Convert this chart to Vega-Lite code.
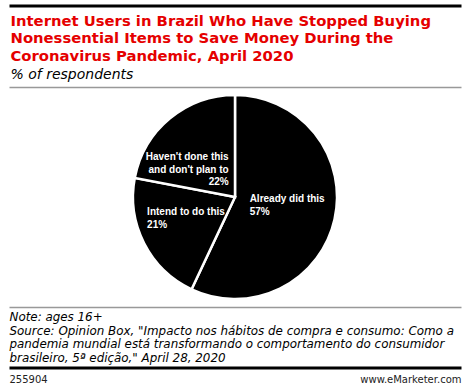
{
  "$schema": "https://vega.github.io/schema/vega-lite/v6.json",
  "width": 470,
  "height": 391,
  "autosize": {"type": "fit", "contains": "padding"},
  "padding": {"left": 6, "right": 6, "top": 5, "bottom": 6},
  "background": "white",
  "datasets": {
    "pie": [
      {"idx": 1, "answer": "Already did this", "pct": 57, "label": "Already did this\n57%"},
      {"idx": 2, "answer": "Intend to do this", "pct": 21, "label": "Intend to do this\n21%"},
      {"idx": 3, "answer": "Haven't done this and don't plan to", "pct": 22, "label": "Haven't done this\nand don't plan to\n22%"}
    ],
    "footer": [{"item": "255904"}, {"item": "www.eMarketer.com"}]
  },
  "layer": [
    {
      "data": {"name": "pie"},
      "mark": {"type": "arc", "outerRadius": 102, "color": "black", "stroke": "white", "strokeWidth": 2.5},
      "encoding": {
        "theta": {"field": "pct", "type": "quantitative", "stack": true},
        "order": {"field": "idx", "type": "quantitative"}
      }
    },
    {
      "data": {"name": "pie"},
      "mark": {"type": "text", "radius": 15, "align": "left", "baseline": "middle", "dy": -1, "font": "Liberation Sans", "fontWeight": "bold", "fontSize": 10, "color": "white", "lineBreak": "\n", "lineHeight": 12.5},
      "encoding": {
        "theta": {"field": "pct", "type": "quantitative", "stack": true},
        "order": {"field": "idx", "type": "quantitative"},
        "text": {"condition": {"test": "datum.idx === 1", "field": "label", "type": "nominal"}, "value": ""}
      }
    },
    {
      "data": {"name": "pie"},
      "mark": {"type": "text", "radius": 47, "align": "left", "baseline": "middle", "dx": -46, "dy": -6, "font": "Liberation Sans", "fontWeight": "bold", "fontSize": 10, "color": "white", "lineBreak": "\n", "lineHeight": 12.5},
      "encoding": {
        "theta": {"field": "pct", "type": "quantitative", "stack": true},
        "order": {"field": "idx", "type": "quantitative"},
        "text": {"condition": {"test": "datum.idx === 2", "field": "label", "type": "nominal"}, "value": ""}
      }
    },
    {
      "data": {"name": "pie"},
      "mark": {"type": "text", "radius": 35, "align": "right", "baseline": "middle", "dx": 16, "dy": -13, "font": "Liberation Sans", "fontWeight": "bold", "fontSize": 10, "color": "white", "lineBreak": "\n", "lineHeight": 12.5},
      "encoding": {
        "theta": {"field": "pct", "type": "quantitative", "stack": true},
        "order": {"field": "idx", "type": "quantitative"},
        "text": {"condition": {"test": "datum.idx === 3", "field": "label", "type": "nominal"}, "value": ""}
      }
    },
    {
      "data": {"name": "footer"},
      "mark": {"type": "point", "opacity": 0},
      "encoding": {
        "x": {
          "field": "item", "type": "nominal",
          "scale": {"type": "point", "padding": 0},
          "axis": {
            "orient": "top", "offset": 81.5, "domainColor": "black", "domainWidth": 3, "domainCap": "butt",
            "labels": false, "ticks": false, "grid": false,
            "title": ["Internet Users in Brazil Who Have Stopped Buying", "Nonessential Items to Save Money During the", "Coronavirus Pandemic, April 2020"],
            "titleX": 1, "titleY": 19.5, "titleAlign": "left", "titleAnchor": "start", "titleBaseline": "alphabetic",
            "titleFont": "DejaVu Sans", "titleFontSize": 14.8, "titleFontWeight": "bold", "titleColor": "#e50000", "titleLineHeight": 17.5
          }
        }
      }
    },
    {
      "data": {"name": "footer"},
      "mark": {"type": "point", "opacity": 0},
      "encoding": {
        "x": {
          "field": "item", "type": "nominal",
          "scale": {"type": "point", "padding": 0},
          "axis": {
            "orient": "top", "offset": 0, "domainColor": "#999999", "domainWidth": 1.5, "domainCap": "butt",
            "labels": false, "ticks": false, "grid": false,
            "title": "% of respondents",
            "titleX": 1, "titleY": -8.5, "titleAlign": "left", "titleAnchor": "start", "titleBaseline": "alphabetic",
            "titleFont": "DejaVu Sans", "titleFontSize": 14, "titleFontWeight": "normal", "titleFontStyle": "italic", "titleColor": "black"
          }
        }
      }
    },
    {
      "data": {"name": "footer"},
      "mark": {"type": "point", "opacity": 0},
      "encoding": {
        "x": {
          "field": "item", "type": "nominal",
          "scale": {"type": "point", "padding": 0},
          "axis": {
            "orient": "bottom", "offset": 0, "domainColor": "#999999", "domainWidth": 1.5, "domainCap": "butt",
            "labels": false, "ticks": false, "grid": false,
            "title": ["Note: ages 16+", "Source: Opinion Box, \"Impacto nos hábitos de compra e consumo: Como a", "pandemia mundial está transformando o comportamento do consumidor", "brasileiro, 5ª edição,\" April 28, 2020"],
            "titleX": 0, "titleY": 13.5, "titleAlign": "left", "titleAnchor": "start", "titleBaseline": "alphabetic",
            "titleFont": "DejaVu Sans", "titleFontSize": 11.9, "titleFontWeight": "normal", "titleFontStyle": "italic", "titleColor": "black", "titleLineHeight": 13.5
          }
        }
      }
    },
    {
      "data": {"name": "footer"},
      "mark": {"type": "point", "opacity": 0},
      "encoding": {
        "x": {
          "field": "item", "type": "nominal",
          "scale": {"type": "point", "padding": 0},
          "axis": {
            "orient": "bottom", "offset": 60.5, "domainColor": "black", "domainWidth": 3, "domainCap": "butt",
            "labels": true, "labelFlush": true, "labelOverlap": false, "labelAngle": 0, "labelPadding": 7, "labelBaseline": "top",
            "labelFont": "DejaVu Sans", "labelFontSize": 10, "labelColor": "#222222",
            "ticks": false, "grid": false, "title": null
          }
        }
      }
    }
  ],
  "resolve": {"scale": {"x": "independent"}, "axis": {"x": "independent"}},
  "config": {"view": {"stroke": null}}
}
